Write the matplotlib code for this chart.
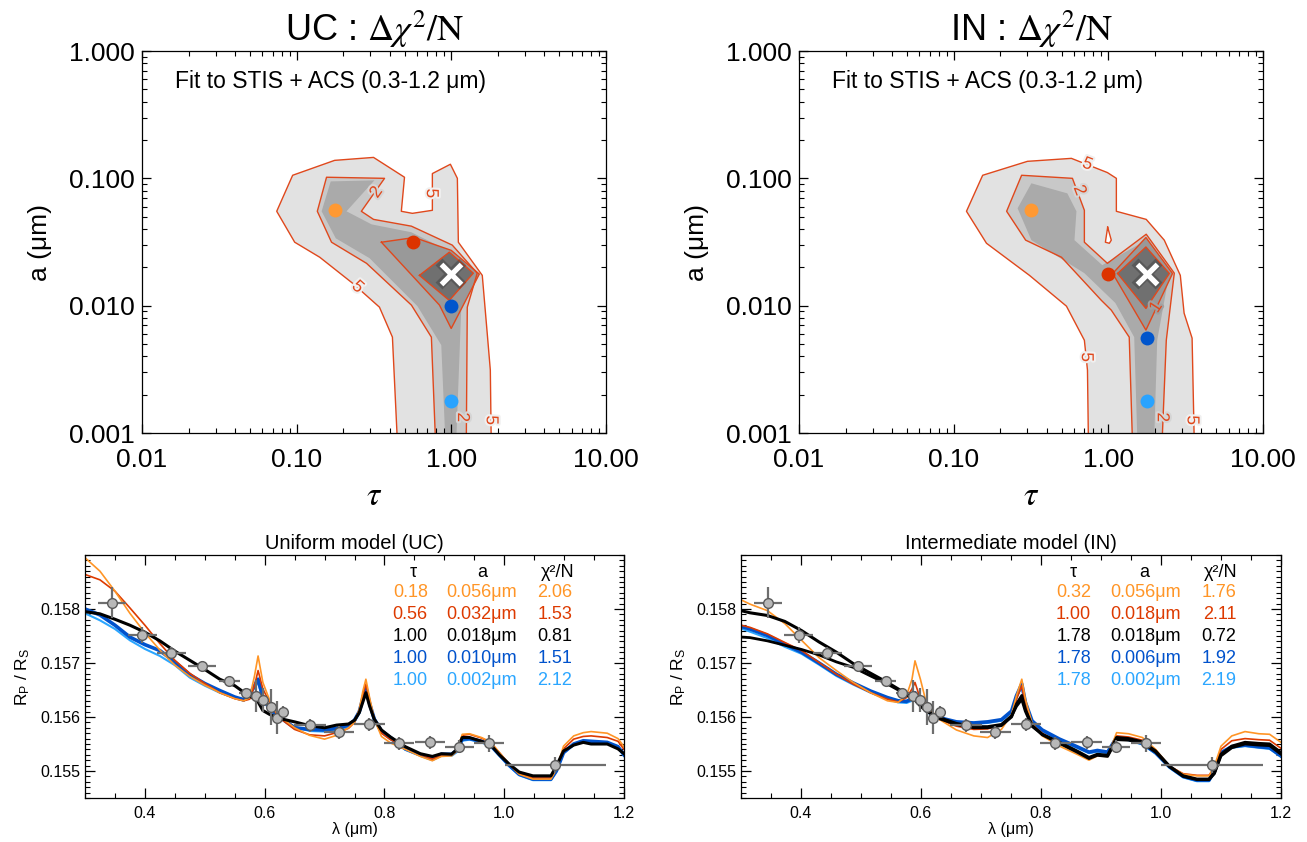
import numpy as np
import matplotlib
matplotlib.use("Agg")
import matplotlib.pyplot as plt
from matplotlib import patheffects
from matplotlib.ticker import FixedLocator, MultipleLocator, LogLocator, NullFormatter, FormatStrFormatter

plt.rcParams['font.family'] = ['Liberation Sans', 'DejaVu Sans']
plt.rcParams['mathtext.fontset'] = 'custom'
plt.rcParams['mathtext.rm'] = 'Liberation Sans'
plt.rcParams['mathtext.it'] = 'Liberation Sans:italic'
plt.rcParams['mathtext.bf'] = 'Liberation Sans:bold'

# ---------------- contour maps (delta chi2/N), digitised levels in (tau, a)
# Uniform model (UC)
uc_c5_tau = [0.447, 0.416, 0.343, 0.230, 0.141, 0.0971, 0.0743, 0.0942, 0.176, 0.314, 0.498, 0.475,
             0.560, 0.754, 0.754, 0.986, 1.094, 1.11, 1.585, 1.706, 1.787, 1.81]
uc_c5_a = [0.0009, 0.00566, 0.00973, 0.0150, 0.0240, 0.0315, 0.0551, 0.1057, 0.1384, 0.146, 0.102, 0.0551,
           0.0531, 0.0561, 0.109, 0.129, 0.100, 0.0315, 0.0173, 0.00608, 0.00312, 0.0009]
uc_c2_tau = [0.789, 0.743, 0.552, 0.283, 0.168, 0.136, 0.156, 0.370, 0.262, 0.314, 0.552, 1.014, 1.47, 1.268, 1.25]
uc_c2_a = [0.0009, 0.00566, 0.0101, 0.0215, 0.0315, 0.0551, 0.102, 0.100, 0.0551, 0.0476, 0.0421, 0.0299,
           0.0180, 0.00973, 0.0009]
uc_c15_tau = [0.914, 0.861, 0.604, 0.296, 0.179, 0.145, 0.166, 0.318, 0.210, 0.305, 0.552, 1.0, 1.387, 1.16, 1.077]
uc_c15_a = [0.0009, 0.0049, 0.00991, 0.0236, 0.0338, 0.0551, 0.0946, 0.0964, 0.0551, 0.0435, 0.0377, 0.0263,
            0.0180, 0.00973, 0.0009]
uc_c1_tau = [0.353, 0.576, 0.998, 1.517, 0.998, 0.838]
uc_c1_a = [0.0315, 0.0343, 0.0272, 0.0177, 0.00662, 0.0101]
uc_c05_tau = [0.622, 0.970, 1.387, 0.970]
uc_c05_a = [0.0173, 0.0263, 0.0180, 0.0110]

uc_lab_tau = [0.248, 0.328, 0.743, 1.18, 1.81]
uc_lab_a = [0.0140, 0.0776, 0.0762, 0.00133, 0.00126]
uc_lab_txt = ['5', '2', '5', '2', '5']
uc_lab_rot = [-42, 55, -90, -90, -90]
uc_lab_bg = ['#f0f0f0', '#d5d5d5', '#f0f0f0', '#d5d5d5', '#f0f0f0']

uc_fit_tau = [0.178, 0.562, 1.0, 1.0, 1.0]
uc_fit_a = [0.0562, 0.0316, 0.0178, 0.0100, 0.00178]

# Intermediate model (IN)
in_c5_tau = [0.743, 0.733, 0.700, 0.536, 0.309, 0.163, 0.121, 0.154, 0.300, 0.577, 0.986, 1.127, 1.127,
             1.758, 2.30, 2.92, 3.09, 3.48, 3.59]
in_c5_a = [0.0009, 0.00312, 0.00535, 0.00991, 0.0173, 0.0309, 0.0551, 0.1057, 0.136, 0.1435, 0.111, 0.100,
           0.0551, 0.0476, 0.0327, 0.0173, 0.00873, 0.00556, 0.0009]
in_c2_tau = [1.43, 1.365, 1.045, 0.902, 0.498, 0.292, 0.220, 0.275, 0.586, 0.700, 0.700, 0.986, 1.758,
             2.67, 2.37, 2.23]
in_c2_a = [0.0009, 0.00566, 0.00922, 0.0110, 0.0240, 0.0327, 0.0551, 0.1057, 0.100, 0.0561, 0.0315, 0.0215,
           0.0364, 0.0180, 0.00535, 0.0009]
in_c15_tau = [1.54, 1.47, 1.11, 0.700, 0.318, 0.259, 0.318, 0.543, 0.622, 0.604, 0.914, 1.758, 2.48, 2.07, 1.98]
in_c15_a = [0.0009, 0.00566, 0.0105, 0.0180, 0.0327, 0.0582, 0.0914, 0.0762, 0.0551, 0.0327, 0.0208, 0.0327,
            0.0180, 0.00535, 0.0009]
in_c1_tau = [1.067, 1.75, 2.60, 1.75]
in_c1_a = [0.0179, 0.0343, 0.0179, 0.00643]
in_c05_tau = [1.148, 1.75, 2.48, 1.75]
in_c05_a = [0.0179, 0.0289, 0.0179, 0.00951]
in_tear_tau = [0.99, 1.045, 1.015, 0.957]
in_tear_a = [0.0413, 0.0327, 0.0309, 0.0315]

in_lab_tau = [0.733, 0.650, 0.721, 2.23, 3.48, 2.04]
in_lab_a = [0.129, 0.0805, 0.00394, 0.00133, 0.00126, 0.00973]
in_lab_txt = ['5', '2', '5', '2', '5', '1']
in_lab_rot = [-21, -69, -90, -90, -90, 57]
in_lab_bg = ['#f0f0f0', '#d5d5d5', '#f0f0f0', '#d5d5d5', '#f0f0f0', '#a0a0a0']

in_fit_tau = [0.316, 1.0, 1.78, 1.78, 1.78]
in_fit_a = [0.0562, 0.0178, 0.0178, 0.00562, 0.00178]

# ---------------- transmission spectrum data
obs_wl = [0.345, 0.396, 0.444, 0.495, 0.541, 0.569, 0.586, 0.598, 0.610, 0.620, 0.631, 0.675, 0.724,
          0.775, 0.824, 0.876, 0.925, 0.975, 1.085]
obs_rp = [0.15812, 0.15752, 0.15718, 0.15695, 0.15666, 0.15644, 0.15639, 0.15631, 0.15618, 0.15599,
          0.15610, 0.15585, 0.15572, 0.15587, 0.15551, 0.15553, 0.15545, 0.15551, 0.15511]
obs_wl_err = [0.024, 0.0245, 0.0245, 0.0237, 0.0175, 0.0113, 0.0045, 0.0045, 0.0045, 0.0045, 0.0068,
              0.0268, 0.0254, 0.0254, 0.0254, 0.0254, 0.024, 0.0254, 0.0845]
obs_rp_err = [0.00029, 0.000145, 0.00011, 0.00009, 0.00009, 0.00009, 0.00029, 0.00022, 0.00033, 0.00031,
              0.00011, 0.00012, 0.00012, 0.00012, 0.00012, 0.00012, 0.00012, 0.00015, 0.000155]

# UC models
uc_wl = [0.300, 0.325, 0.350, 0.375, 0.400, 0.425, 0.450, 0.475, 0.500, 0.525, 0.550, 0.565, 0.575, 0.583,
         0.589, 0.597, 0.608, 0.620, 0.630, 0.650, 0.675, 0.700, 0.720, 0.740, 0.750, 0.758, 0.764, 0.769,
         0.775, 0.783, 0.795, 0.810, 0.835, 0.860, 0.880, 0.895, 0.912, 0.921, 0.930, 0.942, 0.962, 0.977,
         0.992, 1.008, 1.025, 1.048, 1.078, 1.087, 1.099, 1.116, 1.132, 1.145, 1.172, 1.190, 1.200]
uc_orange = [0.15895, 0.15870, 0.15833, 0.15792, 0.15756, 0.15724, 0.15696, 0.15675, 0.15659, 0.15645,
             0.15634, 0.15630, 0.15636, 0.15676, 0.15713, 0.15664, 0.15632, 0.15608, 0.15597, 0.15580,
             0.15566, 0.15559, 0.15566, 0.15580, 0.15590, 0.15614, 0.15648, 0.15670, 0.15637, 0.15596,
             0.15564, 0.15552, 0.15540, 0.15527, 0.15519, 0.15527, 0.15528, 0.15537, 0.15568, 0.15569,
             0.15562, 0.15554, 0.15534, 0.15513, 0.15494, 0.15485, 0.15485, 0.15503, 0.15546, 0.15565,
             0.15571, 0.15573, 0.15570, 0.15560, 0.15545]
uc_red = [0.15864, 0.15854, 0.15833, 0.15802, 0.15770, 0.15736, 0.15705, 0.15681, 0.15662, 0.15645,
          0.15634, 0.15630, 0.15633, 0.15658, 0.15686, 0.15652, 0.15628, 0.15605, 0.15594, 0.15577,
          0.15567, 0.15565, 0.15571, 0.15579, 0.15590, 0.15612, 0.15641, 0.15661, 0.15630, 0.15596,
          0.15570, 0.15558, 0.15545, 0.15531, 0.15522, 0.15530, 0.15530, 0.15538, 0.15566, 0.15568,
          0.15561, 0.15553, 0.15534, 0.15513, 0.15495, 0.15487, 0.15487, 0.15505, 0.15541, 0.15559,
          0.15564, 0.15565, 0.15562, 0.15555, 0.15540]
uc_black = [0.15795, 0.15791, 0.15781, 0.15770, 0.15757, 0.15741, 0.15722, 0.15705, 0.15688, 0.15670,
            0.15658, 0.15646, 0.15639, 0.15633, 0.15628, 0.15612, 0.15605, 0.15599, 0.15596, 0.15591,
            0.15584, 0.15580, 0.15585, 0.15587, 0.15594, 0.15608, 0.15628, 0.15645, 0.15621, 0.15596,
            0.15576, 0.15563, 0.15545, 0.15532, 0.15527, 0.15532, 0.15531, 0.15540, 0.15562, 0.15562,
            0.15555, 0.15549, 0.15530, 0.15513, 0.15498, 0.15491, 0.15491, 0.15509, 0.15537, 0.15548,
            0.15553, 0.15550, 0.15550, 0.15541, 0.15532]
uc_blue = [0.15800, 0.15789, 0.15770, 0.15748, 0.15734, 0.15723, 0.15702, 0.15678, 0.15662, 0.15649,
           0.15637, 0.15632, 0.15642, 0.15658, 0.15670, 0.15636, 0.15615, 0.15604, 0.15596, 0.15580,
           0.15577, 0.15576, 0.15579, 0.15585, 0.15594, 0.15610, 0.15635, 0.15655, 0.15626, 0.15596,
           0.15574, 0.15562, 0.15541, 0.15530, 0.15523, 0.15531, 0.15531, 0.15538, 0.15559, 0.15560,
           0.15555, 0.15548, 0.15530, 0.15511, 0.15494, 0.15485, 0.15485, 0.15500, 0.15534, 0.15550,
           0.15556, 0.15555, 0.15553, 0.15545, 0.15530]
uc_lblue = [0.15792, 0.15779, 0.15763, 0.15742, 0.15726, 0.15713, 0.15696, 0.15673, 0.15658, 0.15645,
            0.15635, 0.15630, 0.15640, 0.15654, 0.15664, 0.15633, 0.15613, 0.15603, 0.15595, 0.15582,
            0.15574, 0.15573, 0.15576, 0.15582, 0.15591, 0.15607, 0.15630, 0.15650, 0.15623, 0.15593,
            0.15571, 0.15559, 0.15539, 0.15528, 0.15520, 0.15528, 0.15528, 0.15535, 0.15556, 0.15558,
            0.15553, 0.15546, 0.15528, 0.15509, 0.15492, 0.15483, 0.15483, 0.15499, 0.15533, 0.15548,
            0.15554, 0.15553, 0.15551, 0.15543, 0.15528]

# IN models
in_wl = [0.300, 0.315, 0.344, 0.373, 0.401, 0.430, 0.459, 0.487, 0.516, 0.544, 0.562, 0.576, 0.585, 0.590,
         0.599, 0.610, 0.630, 0.659, 0.688, 0.711, 0.734, 0.751, 0.759, 0.768, 0.774, 0.785, 0.802, 0.831,
         0.860, 0.880, 0.894, 0.911, 0.926, 0.946, 0.969, 0.991, 1.014, 1.037, 1.060, 1.080, 1.089, 1.100,
         1.118, 1.140, 1.163, 1.181, 1.200]
in_orange = [0.15817, 0.15809, 0.15797, 0.15773, 0.15742, 0.15710, 0.15686, 0.15664, 0.15645, 0.15630,
             0.15627, 0.15640, 0.15670, 0.15704, 0.15670, 0.15621, 0.15596, 0.15576, 0.15565, 0.15562,
             0.15577, 0.15605, 0.15639, 0.15670, 0.15633, 0.15589, 0.15565, 0.15546, 0.15531, 0.15520,
             0.15528, 0.15527, 0.15571, 0.15569, 0.15562, 0.15540, 0.15509, 0.15494, 0.15491, 0.15491,
             0.15509, 0.15546, 0.15565, 0.15573, 0.15569, 0.15568, 0.15553]
in_red = [0.15770, 0.15766, 0.15754, 0.15738, 0.15723, 0.15701, 0.15679, 0.15661, 0.15645, 0.15633,
          0.15628, 0.15636, 0.15652, 0.15664, 0.15633, 0.15611, 0.15596, 0.15583, 0.15577, 0.15578,
          0.15585, 0.15602, 0.15633, 0.15658, 0.15621, 0.15586, 0.15570, 0.15552, 0.15536, 0.15524,
          0.15530, 0.15528, 0.15565, 0.15563, 0.15557, 0.15539, 0.15509, 0.15495, 0.15492, 0.15492,
          0.15506, 0.15540, 0.15556, 0.15560, 0.15558, 0.15557, 0.15542]
in_black = [0.15797, 0.15793, 0.15788, 0.15777, 0.15760, 0.15739, 0.15720, 0.15699, 0.15681, 0.15664,
            0.15652, 0.15643, 0.15636, 0.15633, 0.15622, 0.15612, 0.15599, 0.15588, 0.15582, 0.15582,
            0.15586, 0.15602, 0.15620, 0.15633, 0.15611, 0.15583, 0.15568, 0.15553, 0.15537, 0.15525,
            0.15531, 0.15529, 0.15562, 0.15560, 0.15554, 0.15537, 0.15509, 0.15491, 0.15485, 0.15485,
            0.15497, 0.15531, 0.15546, 0.15553, 0.15551, 0.15550, 0.15534]
in_black2 = [0.15748, 0.15747, 0.15741, 0.15733, 0.15725, 0.15715, 0.15702, 0.15692, 0.15676, 0.15661,
             0.15650, 0.15641, 0.15634, 0.15631, 0.15620, 0.15610, 0.15597, 0.15586, 0.15580, 0.15580,
             0.15584, 0.15600, 0.15624, 0.15640, 0.15614, 0.15585, 0.15567, 0.15551, 0.15535, 0.15523,
             0.15529, 0.15527, 0.15558, 0.15557, 0.15552, 0.15535, 0.15508, 0.15490, 0.15484, 0.15484,
             0.15495, 0.15528, 0.15543, 0.15550, 0.15548, 0.15547, 0.15531]
in_blue = [0.15768, 0.15763, 0.15751, 0.15735, 0.15720, 0.15700, 0.15679, 0.15663, 0.15648, 0.15636,
           0.15630, 0.15629, 0.15634, 0.15645, 0.15630, 0.15611, 0.15599, 0.15591, 0.15589, 0.15591,
           0.15595, 0.15611, 0.15639, 0.15661, 0.15627, 0.15593, 0.15576, 0.15559, 0.15545, 0.15535,
           0.15538, 0.15535, 0.15562, 0.15559, 0.15551, 0.15534, 0.15508, 0.15490, 0.15483, 0.15483,
           0.15500, 0.15534, 0.15545, 0.15548, 0.15545, 0.15543, 0.15528]
in_lblue = [0.15764, 0.15758, 0.15746, 0.15730, 0.15717, 0.15697, 0.15676, 0.15660, 0.15645, 0.15633,
            0.15627, 0.15626, 0.15630, 0.15640, 0.15627, 0.15609, 0.15597, 0.15589, 0.15587, 0.15589,
            0.15593, 0.15609, 0.15636, 0.15657, 0.15624, 0.15591, 0.15574, 0.15557, 0.15543, 0.15533,
            0.15536, 0.15533, 0.15560, 0.15557, 0.15549, 0.15532, 0.15506, 0.15488, 0.15481, 0.15481,
            0.15498, 0.15532, 0.15543, 0.15546, 0.15543, 0.15541, 0.15526]

# legend tables
uc_tau_txt = ['0.18', '0.56', '1.00', '1.00', '1.00']
uc_a_txt = ['0.056μm', '0.032μm', '0.018μm', '0.010μm', '0.002μm']
uc_chi_txt = ['2.06', '1.53', '0.81', '1.51', '2.12']
in_tau_txt = ['0.32', '1.00', '1.78', '1.78', '1.78']
in_a_txt = ['0.056μm', '0.018μm', '0.018μm', '0.006μm', '0.002μm']
in_chi_txt = ['1.76', '2.11', '0.72', '1.92', '2.19']

ORANGE = '#ff9526'
RED = '#dd3a00'
BLUE = '#0052cc'
LBLUE = '#2ba6ff'
CONT = '#e0481c'
fit_colors = ['#ff9933', '#dd3300', None, '#0055cc', '#29a3ff']
row_colors = [ORANGE, RED, 'black', BLUE, LBLUE]

W, H = 1307, 842
fig = plt.figure(figsize=(W / 100, H / 100), dpi=100)
ax_uc = fig.add_axes([142 / W, 1 - 433 / H, 464 / W, 382 / H])
ax_in = fig.add_axes([799 / W, 1 - 433 / H, 464 / W, 382 / H])
ax_suc = fig.add_axes([85 / W, 1 - 798 / H, 539 / W, 243 / H])
ax_sin = fig.add_axes([741 / W, 1 - 798 / H, 540 / W, 243 / H])


def contour_panel(ax, layers, labels, fit_tau, fit_a, name, tear=None):
    ax.set_xscale('log')
    ax.set_yscale('log')
    shades = ['#e2e2e2', '#c8c8c8', '#aaaaaa', '#999999', '#707070']
    for (tau, a), shade in zip(layers, shades):
        ax.fill(tau, a, color=shade, lw=0, zorder=1)
    for k in [0, 1, 3, 4]:
        tau, a = layers[k]
        ax.plot(tau + [tau[0]], a + [a[0]], color=CONT, lw=1.0, zorder=2)
    if tear is not None:
        ax.fill(tear[0], tear[1], color='white', lw=0, zorder=2)
        ax.plot(tear[0] + [tear[0][0]], tear[1] + [tear[1][0]], color=CONT, lw=1.0, zorder=2)
    for t, a, s, r, bg in zip(*labels):
        ax.text(t, a, s, rotation=r, color=CONT, fontsize=12.5, ha='center', va='center', zorder=3,
                rotation_mode='anchor',
                path_effects=[patheffects.withStroke(linewidth=3, foreground=bg)])
    for k in range(5):
        if fit_colors[k] is None:
            continue
        ax.plot(fit_tau[k], fit_a[k], 'o', ms=10, color=fit_colors[k], mec='none', zorder=4)
    ax.plot(fit_tau[2], fit_a[2], 'x', ms=17, mew=7, color='#303030', alpha=0.35, zorder=4)
    ax.plot(fit_tau[2], fit_a[2], 'x', ms=15, mew=3.8, color='white', zorder=5)

    ax.set_xlim(0.01, 10)
    ax.set_ylim(0.001, 1)
    ax.xaxis.set_major_locator(FixedLocator([0.01, 0.1, 1, 10]))
    ax.set_xticklabels(['0.01', '0.10', '1.00', '10.00'])
    ax.yaxis.set_major_locator(FixedLocator([0.001, 0.01, 0.1, 1]))
    ax.set_yticklabels(['0.001', '0.010', '0.100', '1.000'])
    ax.xaxis.set_minor_locator(LogLocator(base=10, subs=np.arange(2, 10)))
    ax.yaxis.set_minor_locator(LogLocator(base=10, subs=np.arange(2, 10)))
    ax.xaxis.set_minor_formatter(NullFormatter())
    ax.yaxis.set_minor_formatter(NullFormatter())
    ax.tick_params(which='both', direction='in', top=True, right=True)
    ax.tick_params(which='major', length=6.5, width=0.9, labelsize=19)
    ax.tick_params(axis='x', which='major', pad=11)
    ax.tick_params(axis='y', which='major', pad=5)
    ax.tick_params(which='minor', length=3.5, width=0.8)
    for sp in ax.spines.values():
        sp.set_linewidth(0.9)

    ax.set_title(name + r' : $\Delta\chi^2/\mathrm{N}$', fontsize=26, pad=7, math_fontfamily='stix')
    ax.set_xlabel(r'$\tau$', fontsize=24, math_fontfamily='stix')
    ax.xaxis.set_label_coords(0.5, -0.125)
    ax.set_ylabel('a (μm)', fontsize=19)
    ax.yaxis.set_label_coords(-0.195, 0.5)
    ax.text(0.072, 0.919, 'Fit to STIS + ACS (0.3-1.2 μm)', transform=ax.transAxes,
            fontsize=16.5, ha='left', va='center')


def spectrum_panel(ax, wl, models, title, tau_txt, a_txt, chi_txt, cols):
    for rp, col, lw in models:
        ax.plot(wl, rp, color=col, lw=lw, zorder=2)
    ax.errorbar(obs_wl, obs_rp, xerr=obs_wl_err, yerr=obs_rp_err, fmt='o', ecolor='#6e6e6e',
                elinewidth=1.6, capsize=0, ms=7, mfc='#b8b8b8', mec='#5a5a5a', mew=1.0, zorder=5)
    ax.set_xlim(0.3, 1.2)
    ax.set_ylim(0.1545, 0.1590)
    ax.xaxis.set_major_locator(FixedLocator([0.4, 0.6, 0.8, 1.0, 1.2]))
    ax.xaxis.set_major_formatter(FormatStrFormatter('%.1f'))
    ax.xaxis.set_minor_locator(MultipleLocator(0.05))
    ax.yaxis.set_major_locator(FixedLocator([0.155, 0.156, 0.157, 0.158]))
    ax.yaxis.set_major_formatter(FormatStrFormatter('%.3f'))
    ax.yaxis.set_minor_locator(MultipleLocator(0.0001))
    ax.tick_params(which='both', direction='in', top=True, right=True)
    ax.tick_params(which='major', length=7.5, width=0.9, labelsize=11.5)
    ax.tick_params(axis='x', which='major', pad=6)
    ax.tick_params(axis='y', which='major', pad=3.5)
    ax.tick_params(which='minor', length=3.6, width=0.8)
    for sp in ax.spines.values():
        sp.set_linewidth(0.9)
    ax.set_title(title, fontsize=14.5, pad=4)
    ax.set_xlabel('λ (μm)', fontsize=11.5)
    ax.xaxis.set_label_coords(0.5, -0.098)
    ax.set_ylabel(r'R$_\mathrm{P}$ / R$_\mathrm{S}$', fontsize=12.5)
    ax.yaxis.set_label_coords(-0.098, 0.5)

    ax.text(cols[3], 0.930, 'τ', transform=ax.transAxes, ha='center', va='center', fontsize=13)
    ax.text(cols[4], 0.930, 'a', transform=ax.transAxes, ha='center', va='center', fontsize=13)
    ax.text(cols[5], 0.930, 'χ²/N', transform=ax.transAxes, ha='center', va='center', fontsize=13)
    for k in range(5):
        y = 0.844 - k * 0.0905
        for j, s in enumerate([tau_txt[k], a_txt[k], chi_txt[k]]):
            ax.text(cols[j], y, s, transform=ax.transAxes, ha='right', va='center',
                    fontsize=13, color=row_colors[k])


contour_panel(ax_uc,
              [(uc_c5_tau, uc_c5_a), (uc_c2_tau, uc_c2_a), (uc_c15_tau, uc_c15_a),
               (uc_c1_tau, uc_c1_a), (uc_c05_tau, uc_c05_a)],
              (uc_lab_tau, uc_lab_a, uc_lab_txt, uc_lab_rot, uc_lab_bg), uc_fit_tau, uc_fit_a, 'UC')
contour_panel(ax_in,
              [(in_c5_tau, in_c5_a), (in_c2_tau, in_c2_a), (in_c15_tau, in_c15_a),
               (in_c1_tau, in_c1_a), (in_c05_tau, in_c05_a)],
              (in_lab_tau, in_lab_a, in_lab_txt, in_lab_rot, in_lab_bg), in_fit_tau, in_fit_a, 'IN',
              tear=(in_tear_tau, in_tear_a))

spectrum_panel(ax_suc, uc_wl,
               [(uc_lblue, LBLUE, 1.5), (uc_blue, BLUE, 2.6), (uc_red, RED, 1.2),
                (uc_orange, ORANGE, 1.2), (uc_black, 'black', 2.2)],
               'Uniform model (UC)', uc_tau_txt, uc_a_txt, uc_chi_txt,
               [0.636, 0.801, 0.904, 0.609, 0.737, 0.876])
spectrum_panel(ax_sin, in_wl,
               [(in_lblue, LBLUE, 1.5), (in_blue, BLUE, 2.6), (in_red, RED, 1.2),
                (in_orange, ORANGE, 1.2), (in_black2, 'black', 2.0), (in_black, 'black', 2.2)],
               'Intermediate model (IN)', in_tau_txt, in_a_txt, in_chi_txt,
               [0.648, 0.814, 0.917, 0.616, 0.746, 0.889])

fig.savefig('out.png', dpi=100)
